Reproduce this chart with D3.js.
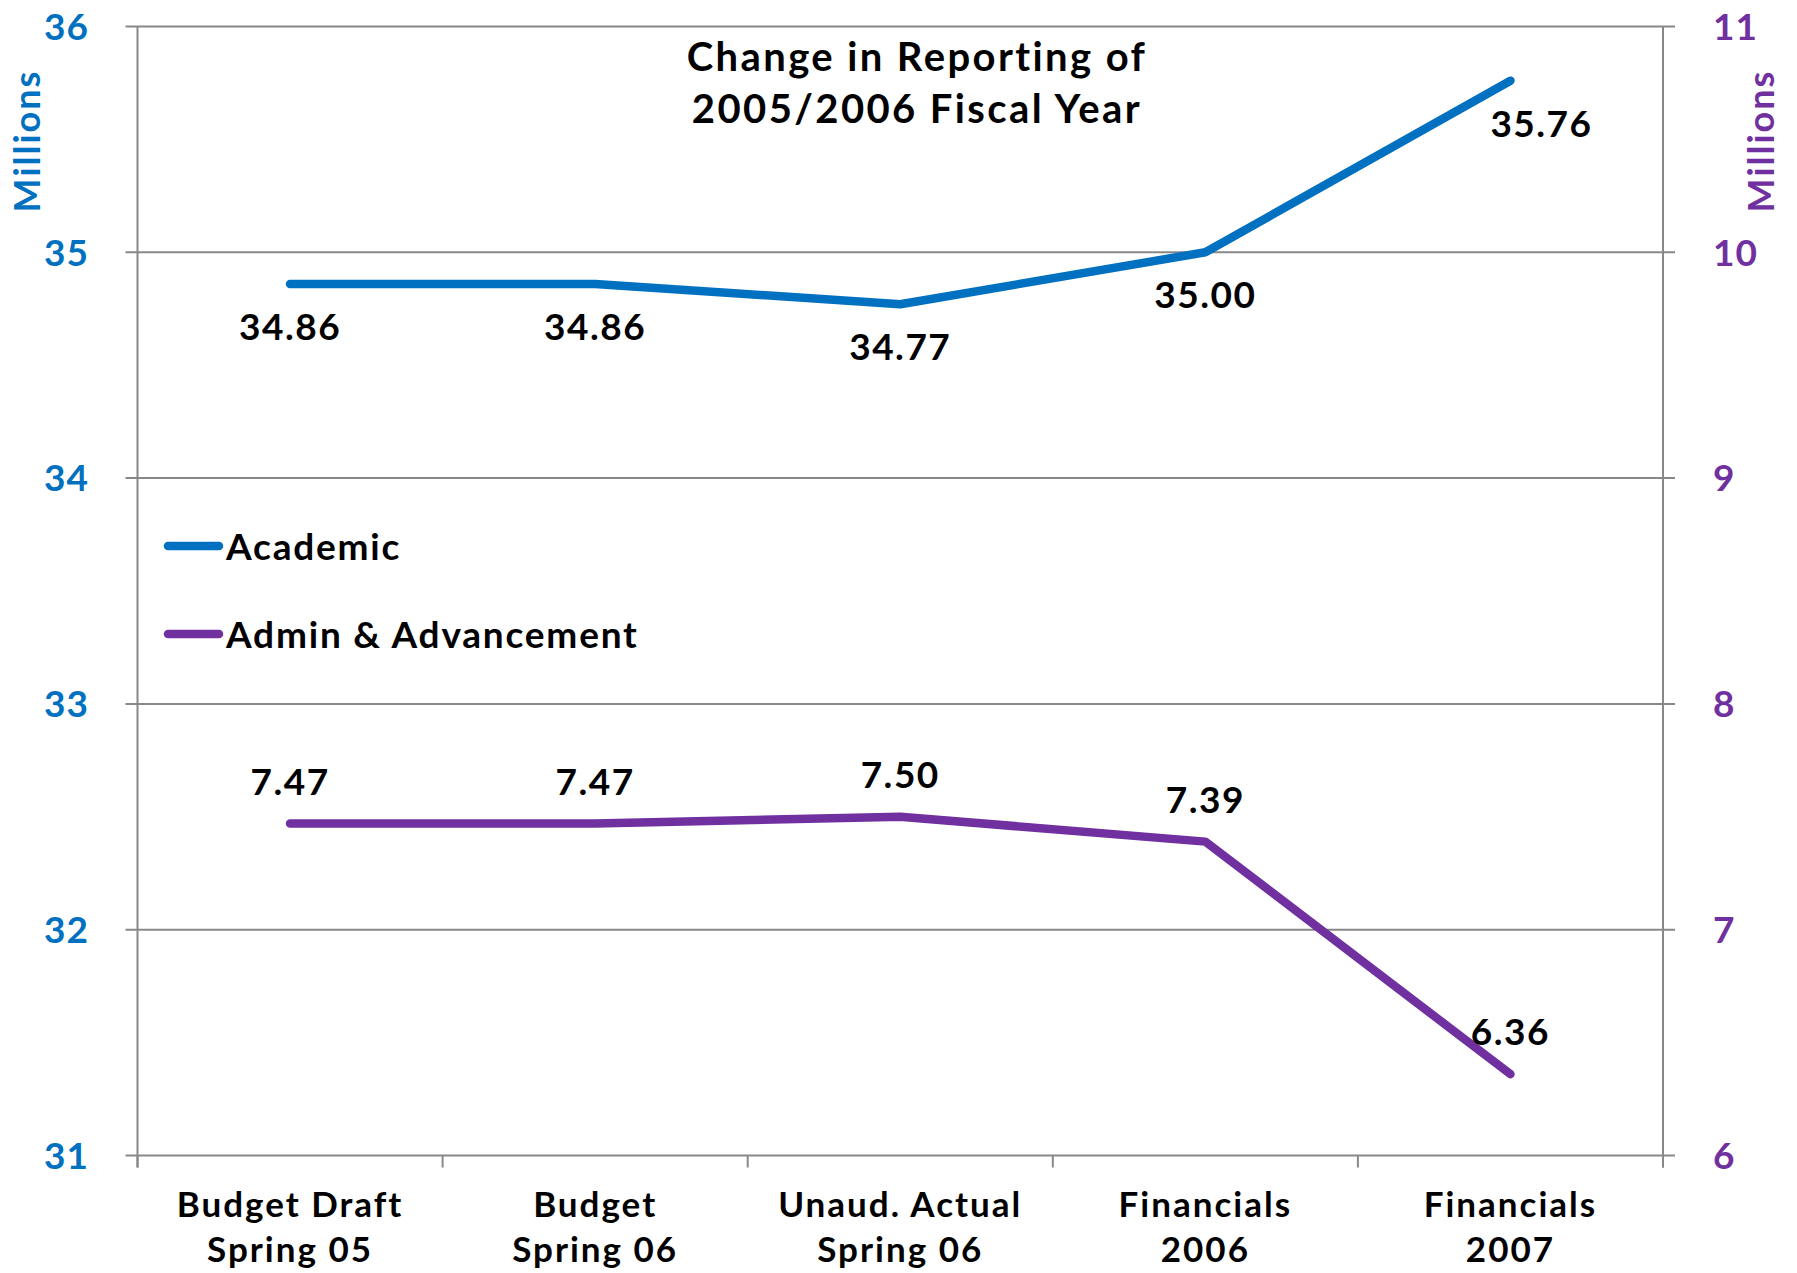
<!DOCTYPE html>
<html>
<head>
<meta charset="utf-8">
<script src="https://cdn.jsdelivr.net/npm/d3@7"></script>
<style>
  body { margin:0; background:#fff; }
  text { font-family: Lato, "Open Sans", sans-serif; font-weight:700; }
</style>
</head>
<body>
<div id="canvas"></div>
<script>
// data
var categories = [['Budget Draft','Spring 05'],['Budget','Spring 06'],['Unaud. Actual','Spring 06'],['Financials','2006'],['Financials','2007']];
var academic = [34.86, 34.86, 34.77, 35.00, 35.76];
var admin = [7.47, 7.47, 7.50, 7.39, 6.36];
var leftTicks = [31,32,33,34,35,36];
var rightTicks = [6,7,8,9,10,11];
var titleLines = ['Change in Reporting of','2005/2006 Fiscal Year'];

var W = 1797, H = 1273;
var m = {t:26.5, r:W-1663, b:H-1155.5, l:137.5};
var blue = '#0070C0', purple = '#7030A0', grid = '#888888';

var svg = d3.select('#canvas').append('svg')
    .attr('width',W).attr('height',H);

var keys = categories.map(function(c,i){ return 'c'+i; });
var x = d3.scaleBand().domain(keys).range([m.l, W-m.r]).padding(0);
var yL = d3.scaleLinear().domain([31,36]).range([H-m.b, m.t]);
var yR = d3.scaleLinear().domain([6,11]).range([H-m.b, m.t]);
function cx(i){ return x(keys[i]) + x.bandwidth()/2; }

//gridlines with outward ticks on both sides
svg.append('g').selectAll('line').data(leftTicks).enter().append('line')
    .attr('x1', m.l-12).attr('x2', W-m.r+12)
    .attr('y1', function(d){ return yL(d); }).attr('y2', function(d){ return yL(d); })
    .style('stroke', grid).style('stroke-width', 2);

//vertical axis lines
[m.l, W-m.r].forEach(function(xx){
  svg.append('line').attr('x1',xx).attr('x2',xx).attr('y1',m.t).attr('y2',H-m.b+12)
    .style('stroke',grid).style('stroke-width',2);
});

//category boundary ticks
var bounds = keys.map(function(k){ return x(k); }).concat([W-m.r]);
svg.append('g').selectAll('line').data(bounds).enter().append('line')
    .attr('x1', function(d){ return d; }).attr('x2', function(d){ return d; })
    .attr('y1', H-m.b).attr('y2', H-m.b+12)
    .style('stroke', grid).style('stroke-width', 2);

//tick labels
svg.append('g').selectAll('text').data(leftTicks).enter().append('text')
    .attr('x', 89).attr('y', function(d){ return yL(d); })
    .attr('dy','0.36em').attr('text-anchor','end')
    .style('fill', blue).style('font-size','37px').style('letter-spacing','1px')
    .text(function(d){ return d; });

svg.append('g').selectAll('text').data(rightTicks).enter().append('text')
    .attr('x', 1713).attr('y', function(d){ return yR(d); })
    .attr('dy','0.36em').attr('text-anchor','start')
    .style('fill', purple).style('font-size','37px').style('letter-spacing','1px')
    .text(function(d){ return d; });

//axis titles
svg.append('text').attr('transform','translate(40,141) rotate(-90)')
    .attr('text-anchor','middle').style('fill',blue).style('font-size','36px')
    .style('letter-spacing','2px').text('Millions');
svg.append('text').attr('transform','translate(1774,141) rotate(-90)')
    .attr('text-anchor','middle').style('fill',purple).style('font-size','36px')
    .style('letter-spacing','2px').text('Millions');

//x labels
var xl = svg.append('g').selectAll('text').data(categories).enter().append('text')
    .attr('text-anchor','middle').style('font-size','35px').style('fill','#000')
    .style('letter-spacing','2px');
xl.append('tspan').attr('x', function(d,i){ return cx(i); }).attr('y', 1217).text(function(d){ return d[0]; });
xl.append('tspan').attr('x', function(d,i){ return cx(i); }).attr('y', 1262).text(function(d){ return d[1]; });

//lines
var lineL = d3.line().x(function(d,i){ return cx(i); }).y(function(d){ return yL(d); });
var lineR = d3.line().x(function(d,i){ return cx(i); }).y(function(d){ return yR(d); });

svg.append('path').datum(academic).attr('d', lineL)
    .style('fill','none').style('stroke',blue).style('stroke-width',8.5)
    .style('stroke-linecap','round').style('stroke-linejoin','round');
svg.append('path').datum(admin).attr('d', lineR)
    .style('fill','none').style('stroke',purple).style('stroke-width',8.5)
    .style('stroke-linecap','round').style('stroke-linejoin','round');

//data labels
svg.append('g').selectAll('text').data(academic).enter().append('text')
    .attr('x', function(d,i){ return cx(i) + (i==4 ? 31 : 0); })
    .attr('y', function(d){ return yL(d) + 56; })
    .attr('text-anchor','middle').style('font-size','37px').style('letter-spacing','1.5px')
    .text(function(d){ return d.toFixed(2); });

svg.append('g').selectAll('text').data(admin).enter().append('text')
    .attr('x', function(d,i){ return cx(i); })
    .attr('y', function(d){ return yR(d) - 29; })
    .attr('text-anchor','middle').style('font-size','37px').style('letter-spacing','1.5px')
    .text(function(d){ return d.toFixed(2); });

//title
svg.append('g').selectAll('text').data(titleLines).enter().append('text')
    .attr('x', 917).attr('y', function(d,i){ return 71 + i*52; })
    .attr('text-anchor','middle').style('font-size','40px').style('letter-spacing','2.4px')
    .text(function(d){ return d; });

//legend
var legend = [{name:'Academic', color:blue, y:546},{name:'Admin & Advancement', color:purple, y:634}];
var lg = svg.append('g').selectAll('g').data(legend).enter().append('g');
lg.append('line').attr('x1',168).attr('x2',219)
    .attr('y1',function(d){ return d.y; }).attr('y2',function(d){ return d.y; })
    .style('stroke',function(d){ return d.color; }).style('stroke-width',8.5)
    .style('stroke-linecap','round');
lg.append('text').attr('x',226).attr('y',function(d){ return d.y + 14; })
    .style('font-size','37px').style('letter-spacing','1.8px').text(function(d){ return d.name; });
</script>
</body>
</html>
